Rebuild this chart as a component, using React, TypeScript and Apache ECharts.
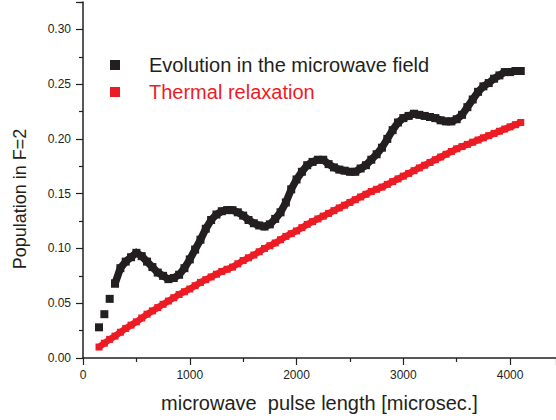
import React, { useEffect, useRef } from "react";
import * as echarts from "echarts";

const pulseLength = [
  150, 200, 250, 300, 350, 400, 450, 500, 550, 600, 650, 700, 750, 800, 850, 900, 950, 1000,
  1050, 1100, 1150, 1200, 1250, 1300, 1350, 1400, 1450, 1500, 1550, 1600, 1650, 1700, 1750, 1800,
  1850, 1900, 1950, 2000, 2050, 2100, 2150, 2200, 2250, 2300, 2350, 2400, 2450, 2500, 2550, 2600,
  2650, 2700, 2750, 2800, 2850, 2900, 2950, 3000, 3050, 3100, 3150, 3200, 3250, 3300, 3350, 3400,
  3450, 3500, 3550, 3600, 3650, 3700, 3750, 3800, 3850, 3900, 3950, 4000, 4050, 4100,
];

const evolution = [
  0.028, 0.040, 0.054, 0.068, 0.082, 0.088, 0.092, 0.096, 0.093, 0.088, 0.083, 0.078, 0.075, 0.072,
  0.073, 0.076, 0.082, 0.090, 0.099, 0.108, 0.118, 0.126, 0.131, 0.134, 0.135, 0.135, 0.133, 0.130,
  0.126, 0.123, 0.121, 0.120, 0.122, 0.127, 0.133, 0.142, 0.154, 0.163, 0.170, 0.176, 0.179, 0.181,
  0.181, 0.177, 0.174, 0.172, 0.171, 0.170, 0.170, 0.173, 0.176, 0.181, 0.186, 0.192, 0.200, 0.208,
  0.215, 0.219, 0.221, 0.223, 0.222, 0.221, 0.220, 0.219, 0.217, 0.216, 0.216, 0.218, 0.222, 0.229,
  0.236, 0.243, 0.248, 0.251, 0.255, 0.258, 0.261, 0.261, 0.262, 0.262,
];

const thermal = [
  0.010, 0.0135, 0.017, 0.020, 0.0235, 0.027, 0.030, 0.033, 0.0365, 0.040, 0.043, 0.046, 0.049,
  0.052, 0.055, 0.058, 0.0605, 0.063, 0.066, 0.069, 0.0715, 0.074, 0.0765, 0.079, 0.081, 0.083,
  0.086, 0.089, 0.0915, 0.094, 0.097, 0.100, 0.1025, 0.105, 0.108, 0.111, 0.1135, 0.116, 0.119,
  0.122, 0.1245, 0.127, 0.1295, 0.132, 0.1345, 0.137, 0.1395, 0.142, 0.1445, 0.147, 0.1495, 0.152,
  0.154, 0.156, 0.1585, 0.161, 0.1635, 0.166, 0.1685, 0.171, 0.1735, 0.176, 0.1785, 0.181, 0.1835,
  0.186, 0.1885, 0.191, 0.193, 0.195, 0.197, 0.199, 0.201, 0.203, 0.205, 0.207, 0.209, 0.211, 0.213,
  0.215,
];

// the first few evolution samples are drawn as separate squares, as in the original
const evolutionSparseCount = 4;

const seriesNames = ["Evolution in the microwave field", "Thermal relaxation"];
const seriesColors = ["#231f20", "#ed1c24"];
const xTitle = "microwave  pulse length [microsec.]";
const yTitle = "Population in F=2";

const FONT = "'Liberation Sans', Arial, Helvetica, sans-serif";

export default function App() {
  const ref = useRef<HTMLDivElement>(null);
  useEffect(() => {
    document.body.style.margin = "0";
    if (!ref.current) return;
    const chart = echarts.init(ref.current, null, { renderer: "svg" });
    const axisColor = "#231f20";
    const pts = (vals: number[]) => pulseLength.map((x, k) => [x, vals[k]]);
    const evoPts = pts(evolution);
    chart.setOption({
      animation: false,
      backgroundColor: "#ffffff",
      textStyle: { fontFamily: FONT },
      grid: { left: 83, right: 0, top: 2, bottom: 62, containLabel: false },
      legend: {
        orient: "vertical",
        left: 110,
        top: 55,
        padding: 0,
        itemWidth: 10,
        itemHeight: 10,
        itemGap: 7,
        icon: "rect",
        selectedMode: false,
        data: seriesNames.map((n, i) => ({
          name: n,
          icon: "rect",
          itemStyle: { color: seriesColors[i] },
          textStyle: { color: seriesColors[i], fontSize: 20, fontFamily: FONT, padding: [0, 0, 0, 24] },
        })),
      },
      xAxis: {
        type: "value",
        min: 0,
        max: 4430,
        interval: 1000,
        name: xTitle,
        nameLocation: "middle",
        nameGap: 35,
        nameTextStyle: { fontSize: 20, color: axisColor, fontFamily: FONT },
        axisLine: { show: true, onZero: false, lineStyle: { color: axisColor, width: 1.5 } },
        axisTick: { show: true, inside: false, length: 7, lineStyle: { color: axisColor, width: 1.2 } },
        minorTick: { show: true, splitNumber: 2, length: 4, lineStyle: { color: axisColor, width: 1.2 } },
        axisLabel: {
          show: true,
          fontSize: 12,
          color: axisColor,
          margin: 11,
          showMaxLabel: false,
          fontFamily: FONT,
          formatter: (v: number) => String(v),
        },
        splitLine: { show: false },
      },
      yAxis: {
        type: "value",
        min: 0,
        max: 0.325,
        interval: 0.05,
        axisLine: { show: true, onZero: false, lineStyle: { color: axisColor, width: 1.5 } },
        axisTick: { show: true, inside: false, length: 7, lineStyle: { color: axisColor, width: 1.2 } },
        minorTick: { show: true, splitNumber: 2, length: 4, lineStyle: { color: axisColor, width: 1.2 } },
        axisLabel: {
          show: true,
          fontSize: 12,
          color: axisColor,
          margin: 12,
          showMaxLabel: false,
          fontFamily: FONT,
          formatter: (v: number) => v.toFixed(2),
        },
        splitLine: { show: false },
      },
      graphic: [
        {
          type: "text",
          x: 20,
          y: 199,
          rotation: Math.PI / 2,
          style: {
            text: yTitle,
            fontSize: 18,
            fontFamily: FONT,
            fill: axisColor,
            textAlign: "center",
            textVerticalAlign: "middle",
          },
        },
      ],
      series: [
        {
          name: seriesNames[0],
          type: "scatter",
          symbol: "rect",
          symbolSize: 8,
          itemStyle: { color: seriesColors[0], opacity: 1 },
          data: evoPts.slice(0, evolutionSparseCount),
          z: 3,
        },
        {
          name: seriesNames[0],
          type: "line",
          symbol: "rect",
          symbolSize: 8,
          showSymbol: true,
          showAllSymbol: true,
          itemStyle: { color: seriesColors[0], opacity: 1 },
          lineStyle: { color: seriesColors[0], width: 7.5, opacity: 1, join: "miter" },
          data: evoPts.slice(evolutionSparseCount - 1),
          z: 3,
        },
        {
          name: seriesNames[1],
          type: "line",
          symbol: "rect",
          symbolSize: 7,
          showSymbol: true,
          showAllSymbol: true,
          itemStyle: { color: seriesColors[1], opacity: 1 },
          lineStyle: { color: seriesColors[1], width: 6.5, opacity: 1, join: "miter" },
          data: pts(thermal),
          z: 2,
        },
      ],
    });
    return () => chart.dispose();
  }, []);
  return <div ref={ref} style={{ width: 556, height: 420 }} />;
}
